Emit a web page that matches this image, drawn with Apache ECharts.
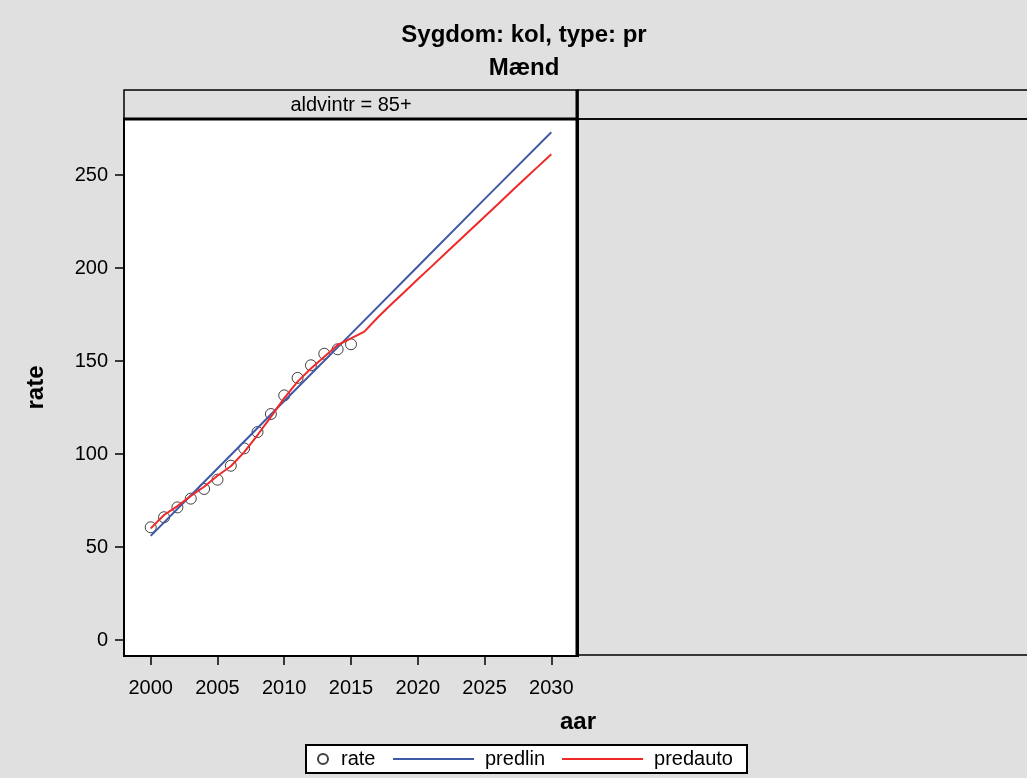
<!DOCTYPE html>
<html>
<head>
<meta charset="utf-8">
<script src="https://cdn.jsdelivr.net/npm/echarts@6/dist/echarts.min.js"></script>
<style>
html,body{margin:0;padding:0;background:#e0e0e0;}
#chart{width:1027px;height:778px;}
</style>
</head>
<body>
<div id="chart"></div>
<script>
// ---- data ----
const rateYears = [2000,2001,2002,2003,2004,2005,2006,2007,2008,2009,2010,2011,2012,2013,2014,2015];
const rateValues = [60.6,66,71.3,76,81.2,86.2,93.7,103,111.8,121.5,131.5,140.9,147.7,153.9,156.3,159];

const predlinYears = [2000,2005,2010,2015,2020,2025,2030];
const predlinValues = [56,92.2,128.5,164.6,200.8,237,273];

const predautoYears = [2000,2001,2002,2003,2004,2005,2006,2007,2008,2009,2010,2011,2012,2013,2014,2015,
  2016,2017,2018,2019,2020,2021,2022,2023,2024,2025,2026,2027,2028,2029,2030];
const predautoValues = [60,67.2,72,77.4,82.4,88.3,93.4,101,110.2,120,130,138.9,146,152.3,158.6,162.2,
  165.8,173.4,180.4,187.1,193.9,200.6,207.4,214.1,220.8,227.6,234.3,241.1,247.8,254.5,261.2];

const xTicks = [2000,2005,2010,2015,2020,2025,2030];
const yTicks = [0,50,100,150,200,250];

const titleText = 'Sygdom: kol, type: pr';
const subTitleText = 'Mænd';
const panelLabel = 'aldvintr = 85+';
const xName = 'aar';
const yName = 'rate';

const FONT = '"Liberation Sans", Arial, sans-serif';
const BLUE = '#4058a6';
const RED = '#f02828';

const pairs = (xs, ys) => xs.map((x, i) => [x, ys[i]]);

const chart = echarts.init(document.getElementById('chart'));
chart.setOption({
  backgroundColor: '#e0e0e0',
  animation: false,
  textStyle: { fontFamily: FONT },
  title: [
    { text: titleText, left: 524, top: 23, textAlign: 'center', padding: 0,
      textStyle: { fontFamily: FONT, fontSize: 24, fontWeight: 'bold', color: '#000' } },
    { text: subTitleText, left: 524, top: 56, textAlign: 'center', padding: 0,
      textStyle: { fontFamily: FONT, fontSize: 24, fontWeight: 'bold', color: '#000' } }
  ],
  grid: {
    left: 124, right: 449, top: 119, bottom: 122,
    show: true, backgroundColor: '#fff', borderColor: '#000', borderWidth: 2
  },
  xAxis: {
    type: 'value', min: 1998, max: 2032,
    axisLine: { show: false, onZero: false },
    splitLine: { show: false },
    axisTick: { show: true, inside: false, length: 9, customValues: xTicks,
      lineStyle: { color: '#000', width: 1.5 } },
    axisLabel: { customValues: xTicks, margin: 22, fontSize: 20, color: '#000', fontFamily: FONT,
      formatter: v => String(v) }
  },
  yAxis: {
    type: 'value', min: -8.6, max: 280.1,
    axisLine: { show: false, onZero: false },
    splitLine: { show: false },
    name: yName, nameLocation: 'middle', nameGap: 76, nameRotate: 90,
    nameTextStyle: { fontFamily: FONT, fontSize: 24, fontWeight: 'bold', color: '#000' },
    axisTick: { show: true, inside: false, length: 9, customValues: yTicks,
      lineStyle: { color: '#000', width: 1.5 } },
    axisLabel: { customValues: yTicks, margin: 16, fontSize: 20, color: '#000', fontFamily: FONT }
  },
  legend: [
    { data: ['rate'], left: 317, top: 749, padding: 0, z: 10,
      icon: 'circle', itemWidth: 10, itemHeight: 10,
      textStyle: { fontFamily: FONT, fontSize: 20, color: '#000', padding: [0,0,0,8] } },
    { data: ['predlin', 'predauto'], left: 393, top: 749, padding: 0, z: 10,
      icon: 'rect', itemWidth: 81, itemHeight: 2, itemGap: 17,
      textStyle: { fontFamily: FONT, fontSize: 20, color: '#000', padding: [0,0,0,6] } }
  ],
  graphic: [
    { type: 'rect', z: 1, shape: { x: 306, y: 745, width: 441, height: 28 },
      style: { fill: '#fff', stroke: '#000', lineWidth: 2 } },
    { type: 'rect', z: 1, shape: { x: 124, y: 90, width: 454, height: 29 },
      style: { fill: '#e0e0e0', stroke: '#000', lineWidth: 1.5 } },
    { type: 'text', z: 2, x: 351, y: 105,
      style: { text: panelLabel, font: '20px ' + FONT, fill: '#000', textAlign: 'center', textVerticalAlign: 'middle' } },
    { type: 'rect', z: 1, shape: { x: 578, y: 90, width: 470, height: 29 },
      style: { fill: '#e0e0e0', stroke: '#000', lineWidth: 1.5 } },
    { type: 'rect', z: 1, shape: { x: 578, y: 119, width: 470, height: 536 },
      style: { fill: 'none', stroke: '#000', lineWidth: 1.5 } },
    { type: 'line', z: 50, shape: { x1: 577, y1: 90, x2: 577, y2: 657 },
      style: { stroke: '#000', lineWidth: 3 } },
    { type: 'line', z: 50, shape: { x1: 123, y1: 119, x2: 578, y2: 119 },
      style: { stroke: '#000', lineWidth: 3 } },
    { type: 'text', z: 2, x: 578, y: 722,
      style: { text: xName, font: 'bold 24px ' + FONT, fill: '#000', textAlign: 'center', textVerticalAlign: 'middle' } }
  ],
  series: [
    { name: 'rate', type: 'scatter', data: pairs(rateYears, rateValues),
      symbol: 'circle', symbolSize: 11, z: 3,
      itemStyle: { color: 'rgba(255,255,255,0)', borderColor: '#111', borderWidth: 1 } },
    { name: 'predlin', type: 'line', data: pairs(predlinYears, predlinValues),
      symbol: 'none', z: 4, color: BLUE, lineStyle: { color: BLUE, width: 2 } },
    { name: 'predauto', type: 'line', data: pairs(predautoYears, predautoValues),
      symbol: 'none', z: 5, color: RED, lineStyle: { color: RED, width: 2 } }
  ]
});
</script>
</body>
</html>
